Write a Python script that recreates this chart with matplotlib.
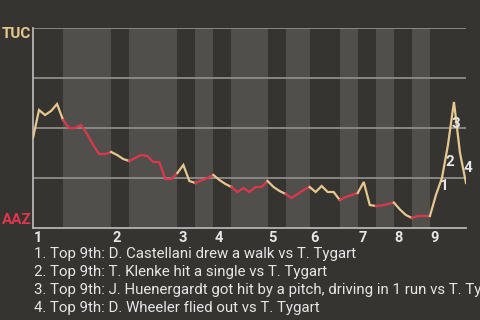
import matplotlib
matplotlib.use('Agg')
import matplotlib.pyplot as plt
import numpy as np

plt.rcParams['font.family'] = ['Roboto', 'DejaVu Sans']

# win probability for TUC after each event (0 = AAZ, 1 = TUC)
wp = [0.45, 0.59, 0.565, 0.585, 0.62, 0.54,
      0.50, 0.50, 0.515, 0.47, 0.415, 0.37, 0.37, 0.38,
      0.365, 0.345, 0.335,
      0.35, 0.365, 0.36, 0.33, 0.33, 0.245, 0.245, 0.275,
      0.315, 0.235, 0.225,
      0.238, 0.25, 0.265,
      0.24, 0.22, 0.205,
      0.18, 0.20, 0.18, 0.205, 0.205, 0.235,
      0.205, 0.185, 0.17,
      0.15, 0.17, 0.19, 0.205,
      0.18, 0.21, 0.18, 0.18, 0.14,
      0.155, 0.165, 0.175,
      0.23, 0.115, 0.11,
      0.113, 0.12, 0.127,
      0.093, 0.065, 0.05,
      0.06, 0.06, 0.06,
      0.165, 0.25, 0.415, 0.63, 0.375, 0.225]

# events per half inning (top 1, bottom 1, top 2, ...)
half_innings = [5, 8, 3, 8, 3, 3, 3, 6, 3, 4, 5, 3, 3, 3, 3, 3, 6]

inning_labels = ['1', '2', '3', '4', '5', '6', '7', '8', '9']

# segment start index for the numbered plays
play_idx = [67, 68, 69, 71]
plays = ['1. Top 9th: D. Castellani drew a walk vs T. Tygart',
         '2. Top 9th: T. Klenke hit a single vs T. Tygart',
         '3. Top 9th: J. Huenergardt got hit by a pitch, driving in 1 run vs T. Tygart',
         '4. Top 9th: D. Wheeler flied out vs T. Tygart']

bg = '#353430'
band = '#504f4c'
tan = '#e6c88e'
red = '#e0364c'
txt = '#e6e6e6'

fig = plt.figure(figsize=(4.8, 3.2), dpi=100, facecolor=bg)
ax = fig.add_axes([33/480, 92/320, 433/480, 200/320])
ax.set_facecolor(bg)

x = np.arange(len(wp))
bounds = np.concatenate([[0], np.cumsum(half_innings)])

for k in range(len(half_innings)):
    a, b = bounds[k], bounds[k + 1]
    if k % 2 == 1:
        ax.axvspan(a, b, color=band, lw=0, zorder=0)
    ax.plot(x[a:b + 1], wp[a:b + 1], color=tan if k % 2 == 0 else red,
            lw=1.6, zorder=3, solid_joinstyle='miter')

for g in [0.25, 0.5, 0.75, 1.0]:
    ax.axhline(g, color='#8c8c8c', lw=1.3, zorder=1)

ax.set_xlim(0, bounds[-1])
ax.set_ylim(0, 1)
for s in ['top', 'right']:
    ax.spines[s].set_visible(False)
for s in ['left', 'bottom']:
    ax.spines[s].set_color('#b4b4b4')
    ax.spines[s].set_linewidth(1.3)
ax.set_xticks([])
ax.set_yticks([])

# inning numbers at start of each top half
for n, lab in enumerate(inning_labels):
    ax.text(bounds[2 * n] + 0.15, -0.048, lab, transform=ax.get_xaxis_transform(),
            ha='left', va='center', color=txt, fontsize=10.5, fontweight='bold')

# numbered play markers
for n, i in enumerate(play_idx):
    xm = (x[i] + x[i + 1]) / 2 + 0.85
    ym = (wp[i] + wp[i + 1]) / 2
    ax.text(xm, ym, str(n + 1), ha='center', va='center', color=txt,
            fontsize=11, fontweight='bold', zorder=4, clip_on=False)

fig.text(2/480, 1 - 34/320, 'TUC', color=tan, fontsize=11, fontweight='bold',
         ha='left', va='center')
fig.text(2/480, 1 - 220/320, 'AAZ', color=red, fontsize=11, fontweight='bold',
         ha='left', va='center')

for n, p in enumerate(plays):
    fig.text(34/480, 1 - (254 + n * 18)/320, p, color=txt, fontsize=10.8,
             ha='left', va='center')

fig.savefig('out.png', dpi=100, facecolor=bg)
